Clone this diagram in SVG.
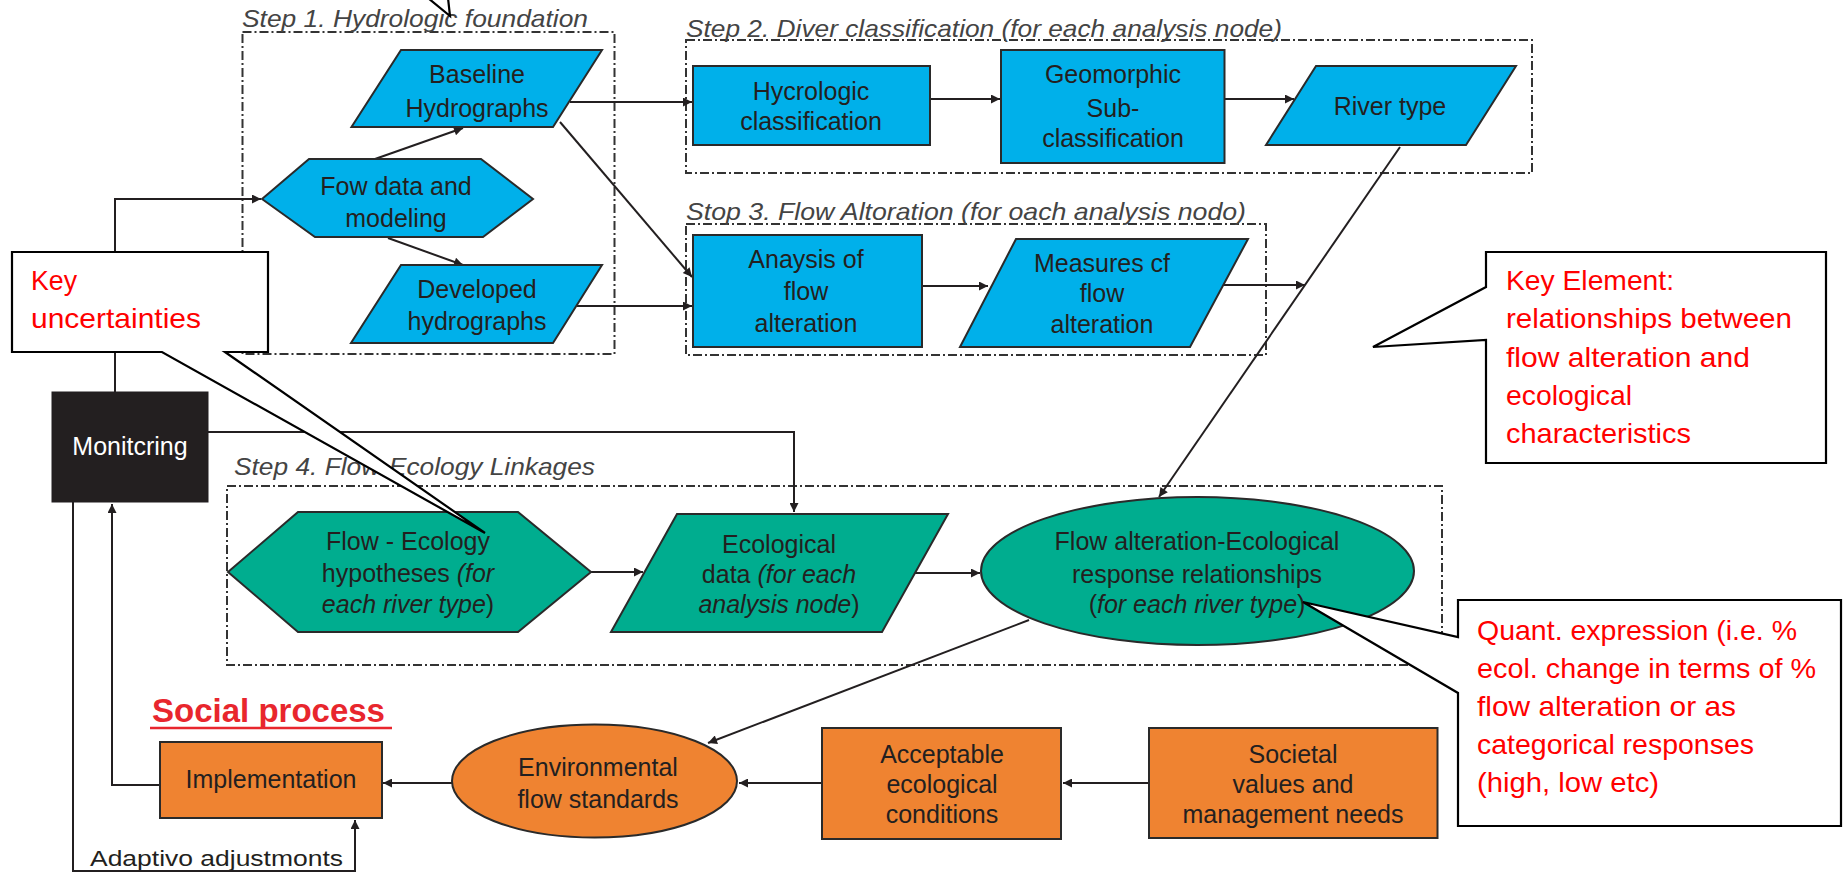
<svg xmlns="http://www.w3.org/2000/svg" width="1843" height="877" viewBox="0 0 1843 877">
<style>
.bg{fill:#ffffff}
.step{fill:none;stroke:#333;stroke-width:2;stroke-dasharray:9,3,2,3}
.title{font-family:"Liberation Sans",Arial,sans-serif;font-style:italic;font-size:24px;fill:#444}
.blue{fill:#00b0ea;stroke:#2a2a2a;stroke-width:2}
.teal{fill:#00ad8f;stroke:#2a2a2a;stroke-width:2}
.orange{fill:#ef8331;stroke:#2a2a2a;stroke-width:2}
.mon{fill:#231f20;stroke:#231f20;stroke-width:1}
.t{font-family:"Liberation Sans",Arial,sans-serif;font-size:25px;fill:#231f20;text-anchor:middle}
.tw{font-family:"Liberation Sans",Arial,sans-serif;font-size:25px;fill:#ffffff;text-anchor:middle}
.it{font-style:italic}
.conn{fill:none;stroke:#231f20;stroke-width:2}
.call{fill:#ffffff;stroke:#000;stroke-width:2.2}
.red{font-family:"Liberation Sans",Arial,sans-serif;font-size:28px;fill:#ff0000}
.social{font-family:"Liberation Sans",Arial,sans-serif;font-size:33px;font-weight:bold;fill:#e8262d}
.adapt{font-family:"Liberation Sans",Arial,sans-serif;font-size:22px;fill:#231f20}
</style>
<defs>
<marker id="ah" viewBox="0 0 10 10" refX="10" refY="5" markerWidth="11" markerHeight="9" markerUnits="userSpaceOnUse" orient="auto">
<path d="M0,0 L10,5 L0,10 z" fill="#231f20"/>
</marker>
</defs>
<rect class="bg" x="0" y="0" width="1843" height="877"/>

<g id="step-boxes">
<rect class="step" x="242.5" y="32" width="372" height="322"/>
<rect class="step" x="686" y="40" width="846" height="133"/>
<rect class="step" x="686" y="224" width="580" height="131"/>
<rect class="step" x="227" y="486" width="1215" height="179"/>
<text class="title" x="242" y="27" textLength="346" lengthAdjust="spacingAndGlyphs">Step 1. Hydrologic foundation</text>
<text class="title" x="686" y="37" textLength="596" lengthAdjust="spacingAndGlyphs">Step 2. Diver classification (for each analysis node)</text>
<text class="title" x="686" y="220" textLength="560" lengthAdjust="spacingAndGlyphs">Stop 3.  Flow Altoration (for oach analysis nodo)</text>
<text class="title" x="234" y="475" textLength="361" lengthAdjust="spacingAndGlyphs">Step 4. Flow-Ecology Linkages</text>
</g>

<g id="connectors">
<path class="conn" d="M115,392 V199 H261" marker-end="url(#ah)"/>
<path class="conn" d="M375,159 L463,128" marker-end="url(#ah)"/>
<path class="conn" d="M388,238 L463,265" marker-end="url(#ah)"/>
<path class="conn" d="M570,102 H692" marker-end="url(#ah)"/>
<path class="conn" d="M560,122 L692,277" marker-end="url(#ah)"/>
<path class="conn" d="M577,306 H692" marker-end="url(#ah)"/>
<path class="conn" d="M930,99 H1000" marker-end="url(#ah)"/>
<path class="conn" d="M1224,99 H1294" marker-end="url(#ah)"/>
<path class="conn" d="M922,286 H988" marker-end="url(#ah)"/>
<path class="conn" d="M1222,285 H1305" marker-end="url(#ah)"/>
<path class="conn" d="M1400,147 L1159,497" marker-end="url(#ah)"/>
<path class="conn" d="M208,432 H794 V512" marker-end="url(#ah)"/>
<path class="conn" d="M591,572 H643" marker-end="url(#ah)"/>
<path class="conn" d="M913,573 H980" marker-end="url(#ah)"/>
<path class="conn" d="M1029,620 L708,743" marker-end="url(#ah)"/>
<path class="conn" d="M1149,783 H1063" marker-end="url(#ah)"/>
<path class="conn" d="M822,783 H739" marker-end="url(#ah)"/>
<path class="conn" d="M452,783 H383" marker-end="url(#ah)"/>
<path class="conn" d="M160,785 H112 V504" marker-end="url(#ah)"/>
<path class="conn" d="M73,502 V871 H355 V820" marker-end="url(#ah)"/>
</g>

<g id="baseline">
<polygon class="blue" points="401,50 602,50 553,127 351.5,127"/>
<text class="t" x="477" y="83">Baseline</text>
<text class="t" x="477" y="117">Hydrographs</text>
</g>
<g id="flowdata">
<polygon class="blue" points="262,199 309,159 481,159 533,199 483,237 315,237"/>
<text class="t" x="396" y="195">Fow data and</text>
<text class="t" x="396" y="227">modeling</text>
</g>
<g id="developed">
<polygon class="blue" points="401,265 602,265 553,343 351,343"/>
<text class="t" x="477" y="298">Developed</text>
<text class="t" x="477" y="330">hydrographs</text>
</g>
<g id="hycrologic">
<rect class="blue" x="693" y="66" width="237" height="79"/>
<text class="t" x="811" y="100">Hycrologic</text>
<text class="t" x="811" y="130">classification</text>
</g>
<g id="geomorphic">
<rect class="blue" x="1001" y="50" width="223.5" height="113"/>
<text class="t" x="1113" y="83">Geomorphic</text>
<text class="t" x="1113" y="117">Sub-</text>
<text class="t" x="1113" y="147">classification</text>
</g>
<g id="rivertype">
<polygon class="blue" points="1316,66 1516,66 1466,145 1266,145"/>
<text class="t" x="1390" y="115">River type</text>
</g>
<g id="analysis">
<rect class="blue" x="693" y="235" width="229" height="112"/>
<text class="t" x="806" y="268">Anaysis of</text>
<text class="t" x="806" y="300">flow</text>
<text class="t" x="806" y="332">alteration</text>
</g>
<g id="measures">
<polygon class="blue" points="1016,239 1248,239 1190,347 960,347"/>
<text class="t" x="1102" y="272">Measures cf</text>
<text class="t" x="1102" y="302">flow</text>
<text class="t" x="1102" y="333">alteration</text>
</g>
<g id="monitoring">
<rect class="mon" x="52" y="392" width="156" height="110"/>
<text class="tw" x="130" y="455">Monitcring</text>
</g>
<g id="flowecology">
<polygon class="teal" points="228,572 298,512 518,512 591,572 518,632 298,632"/>
<text class="t" x="408" y="550">Flow - Ecology</text>
<text class="t" x="408" y="582">hypotheses <tspan class="it">(for</tspan></text>
<text class="t" x="408" y="613"><tspan class="it">each river type</tspan>)</text>
</g>
<g id="ecological">
<polygon class="teal" points="677,514 948,514 882,632 611,632"/>
<text class="t" x="779" y="553">Ecological</text>
<text class="t" x="779" y="583">data <tspan class="it">(for each</tspan></text>
<text class="t" x="779" y="613"><tspan class="it">analysis node</tspan>)</text>
</g>
<g id="relationships">
<ellipse class="teal" cx="1197.5" cy="571" rx="216.5" ry="74"/>
<text class="t" x="1197" y="550">Flow alteration-Ecological</text>
<text class="t" x="1197" y="583">response relationships</text>
<text class="t" x="1197" y="613">(<tspan class="it">for each river type</tspan>)</text>
</g>
<g id="implementation">
<rect class="orange" x="160" y="742" width="222" height="76"/>
<text class="t" x="271" y="788">Implementation</text>
</g>
<g id="envflow">
<ellipse class="orange" cx="594.5" cy="781" rx="142.5" ry="56.5"/>
<text class="t" x="598" y="776">Environmental</text>
<text class="t" x="598" y="808">flow standards</text>
</g>
<g id="acceptable">
<rect class="orange" x="822" y="728" width="239" height="111"/>
<text class="t" x="942" y="763">Acceptable</text>
<text class="t" x="942" y="793">ecological</text>
<text class="t" x="942" y="823">conditions</text>
</g>
<g id="societal">
<rect class="orange" x="1149" y="728" width="288.5" height="110"/>
<text class="t" x="1293" y="763">Societal</text>
<text class="t" x="1293" y="793">values and</text>
<text class="t" x="1293" y="823">management needs</text>
</g>

<g id="social-label">
<text class="social" x="152" y="722">Social process</text>
<line x1="150" y1="728" x2="392" y2="728" stroke="#e8262d" stroke-width="2.5"/>
<text class="adapt" x="90" y="866" textLength="253" lengthAdjust="spacingAndGlyphs">Adaptivo adjustmonts</text>
</g>

<g id="callout-top">
<path class="call" d="M428,-2 L450,16 L448,-2"/>
</g>
<g id="callout-uncertainties">
<path class="call" d="M12,252 H268 V352 H225 L485,533 L162,352 H12 Z"/>
<text class="red" x="31" y="290" textLength="46" lengthAdjust="spacingAndGlyphs">Key</text>
<text class="red" x="31" y="328" textLength="170" lengthAdjust="spacingAndGlyphs">uncertainties</text>
</g>
<g id="callout-keyelement">
<path class="call" d="M1486,252 H1826 V463 H1486 V340 L1373,347 L1486,287 Z"/>
<text class="red" x="1506" y="290" textLength="168" lengthAdjust="spacingAndGlyphs">Key Element:</text>
<text class="red" x="1506" y="328" textLength="286" lengthAdjust="spacingAndGlyphs">relationships between</text>
<text class="red" x="1506" y="367" textLength="244" lengthAdjust="spacingAndGlyphs">flow alteration and</text>
<text class="red" x="1506" y="405" textLength="126" lengthAdjust="spacingAndGlyphs">ecological</text>
<text class="red" x="1506" y="443" textLength="185" lengthAdjust="spacingAndGlyphs">characteristics</text>
</g>
<g id="callout-quant">
<path class="call" d="M1458,600 H1841 V826 H1458 V693 L1303,602 L1458,637 Z"/>
<text class="red" x="1477" y="640" textLength="320" lengthAdjust="spacingAndGlyphs">Quant. expression (i.e. %</text>
<text class="red" x="1477" y="678" textLength="339" lengthAdjust="spacingAndGlyphs">ecol. change in terms of %</text>
<text class="red" x="1477" y="716" textLength="259" lengthAdjust="spacingAndGlyphs">flow alteration or as</text>
<text class="red" x="1477" y="754" textLength="277" lengthAdjust="spacingAndGlyphs">categorical responses</text>
<text class="red" x="1477" y="792" textLength="182" lengthAdjust="spacingAndGlyphs">(high, low etc)</text>
</g>
</svg>
